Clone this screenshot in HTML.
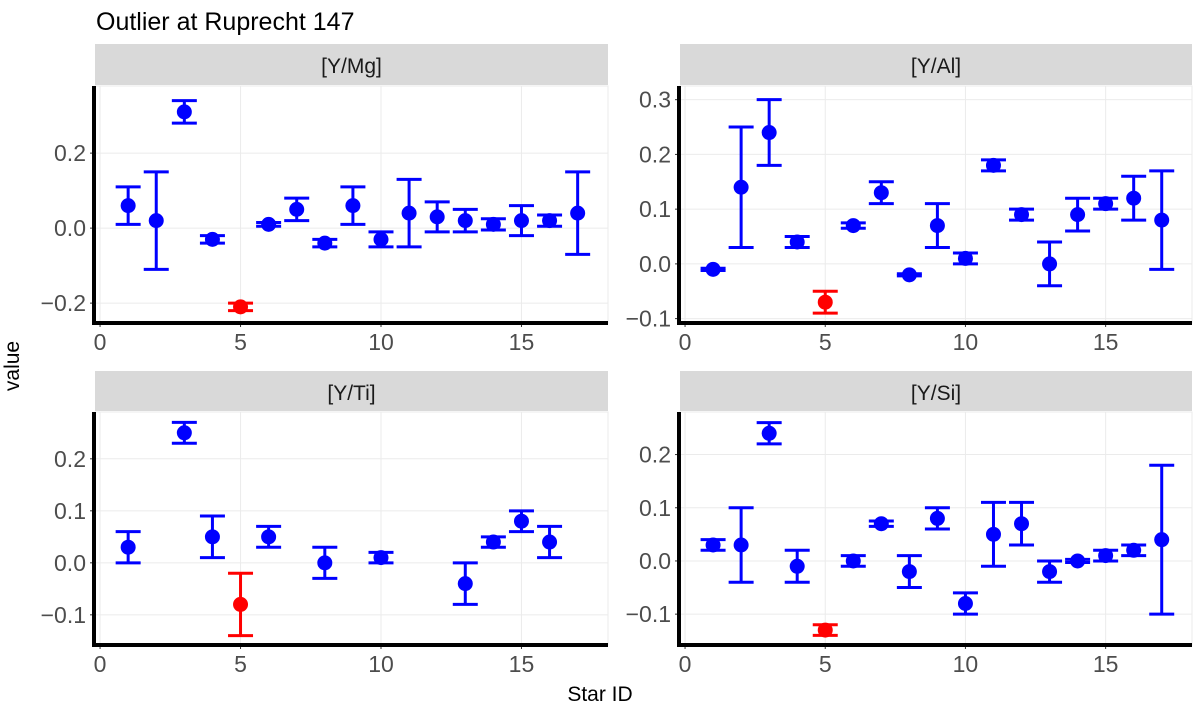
<!DOCTYPE html>
<html><head><meta charset="utf-8"><style>
body{margin:0;background:#fff;width:1200px;height:709px;overflow:hidden;font-family:"Liberation Sans",sans-serif}
</style></head><body>
<svg id="c" width="1200" height="709" xmlns="http://www.w3.org/2000/svg" font-family="Liberation Sans, sans-serif">
<text x="96" y="30" font-size="25" fill="#000">Outlier at Ruprecht 147</text>
<text x="600" y="701" font-size="21" text-anchor="middle" fill="#000">Star ID</text>
<text x="19" y="366" font-size="21" text-anchor="middle" fill="#000" transform="rotate(-90 19 366)">value</text>
</svg>
<script>
const mgIds=[1,2,3,4,5,6,7,8,9,10,11,12,13,14,15,16,17];
const mgVal=[0.06,0.02,0.31,-0.03,-0.21,0.01,0.05,-0.04,0.06,-0.03,0.04,0.03,0.02,0.01,0.02,0.02,0.04];
const mgLo=[0.01,-0.11,0.28,-0.04,-0.22,0.005,0.02,-0.05,0.01,-0.05,-0.05,-0.01,-0.01,-0.005,-0.02,0.005,-0.07];
const mgHi=[0.11,0.15,0.34,-0.02,-0.20,0.015,0.08,-0.03,0.11,-0.01,0.13,0.07,0.05,0.025,0.06,0.035,0.15];
const alIds=[1,2,3,4,5,6,7,8,9,10,11,12,13,14,15,16,17];
const alVal=[-0.01,0.14,0.24,0.04,-0.07,0.07,0.13,-0.02,0.07,0.01,0.18,0.09,0.0,0.09,0.11,0.12,0.08];
const alLo=[-0.012,0.03,0.18,0.03,-0.09,0.065,0.11,-0.022,0.03,0.0,0.17,0.08,-0.04,0.06,0.10,0.08,-0.01];
const alHi=[-0.008,0.25,0.30,0.05,-0.05,0.075,0.15,-0.018,0.11,0.02,0.19,0.10,0.04,0.12,0.12,0.16,0.17];
const tiIds=[1,3,4,5,6,8,10,13,14,15,16];
const tiVal=[0.03,0.25,0.05,-0.08,0.05,0.0,0.01,-0.04,0.04,0.08,0.04];
const tiLo=[0.0,0.23,0.01,-0.14,0.03,-0.03,0.0,-0.08,0.03,0.06,0.01];
const tiHi=[0.06,0.27,0.09,-0.02,0.07,0.03,0.02,0.0,0.05,0.10,0.07];
const siIds=[1,2,3,4,5,6,7,8,9,10,11,12,13,14,15,16,17];
const siVal=[0.03,0.03,0.24,-0.01,-0.13,0.0,0.07,-0.02,0.08,-0.08,0.05,0.07,-0.02,0.0,0.01,0.02,0.04];
const siLo=[0.02,-0.04,0.22,-0.04,-0.14,-0.01,0.065,-0.05,0.06,-0.10,-0.01,0.03,-0.04,-0.003,0.0,0.01,-0.10];
const siHi=[0.04,0.10,0.26,0.02,-0.12,0.01,0.075,0.01,0.10,-0.06,0.11,0.11,0.0,0.003,0.02,0.03,0.18];
const outlierId=5;
const xTicks=[0,5,10,15];
const mgTicks=[-0.2,0.0,0.2], alTicks=[-0.1,0.0,0.1,0.2,0.3], tiTicks=[-0.1,0.0,0.1,0.2], siTicks=[-0.1,0.0,0.1,0.2];
const svg=document.getElementById('c');const NS='http://www.w3.org/2000/svg';
function mk(t,a,p){const e=document.createElementNS(NS,t);for(const k in a)e.setAttribute(k,a[k]);(p||svg).appendChild(e);return e;}
const panels=[
 {name:'y-mg',label:'[Y/Mg]',L:95,R:608,T:86,B:323,hT:44,ymin:-0.253,ymax:0.379,ids:mgIds,v:mgVal,lo:mgLo,hi:mgHi,ticks:mgTicks},
 {name:'y-al',label:'[Y/Al]',L:680,R:1192,T:86,B:323,hT:44,ymin:-0.108,ymax:0.325,ids:alIds,v:alVal,lo:alLo,hi:alHi,ticks:alTicks},
 {name:'y-ti',label:'[Y/Ti]',L:95,R:608,T:412,B:645,hT:371,ymin:-0.158,ymax:0.29,ids:tiIds,v:tiVal,lo:tiLo,hi:tiHi,ticks:tiTicks},
 {name:'y-si',label:'[Y/Si]',L:680,R:1192,T:412,B:645,hT:371,ymin:-0.158,ymax:0.28,ids:siIds,v:siVal,lo:siLo,hi:siHi,ticks:siTicks}];
panels.forEach(p=>{
 const g=mk('g',{});
 
 
 const xmin=-0.18,xmax=18.08;
 const X=v=>p.L+(v-xmin)/(xmax-xmin)*(p.R-p.L);
 const Y=v=>p.B-(v-p.ymin)/(p.ymax-p.ymin)*(p.B-p.T);
 const strip=mk('rect',{x:p.L,y:p.hT,width:p.R-p.L,height:p.T-p.hT-1,fill:'#d9d9d9'},g);
 
 
 const st=mk('text',{x:(p.L+p.R)/2,y:p.hT+29,'font-size':21,'text-anchor':'middle',fill:'#1a1a1a'},g);st.textContent=p.label;
 
 
 mk('rect',{x:p.L,y:p.T,width:p.R-p.L,height:p.B-p.T,fill:'#fff',stroke:'#ebebeb','stroke-width':1},g);
 xTicks.forEach(t=>{mk('line',{x1:X(t),x2:X(t),y1:p.T,y2:p.B,stroke:'#ebebeb','stroke-width':1},g);
  const tl=mk('text',{x:X(t),y:p.B+27,'font-size':23,'text-anchor':'middle',fill:'#4d4d4d'},g);tl.textContent=t;
  
  
  mk('line',{x1:X(t),x2:X(t),y1:p.B,y2:p.B+4,stroke:'#333','stroke-width':1},g);});
 p.ticks.forEach(t=>{mk('line',{x1:p.L,x2:p.R,y1:Y(t),y2:Y(t),stroke:'#ebebeb','stroke-width':1},g);
  const tl=mk('text',{x:p.L-9,y:Y(t)+8,'font-size':23,'text-anchor':'end',fill:'#4d4d4d'},g);tl.textContent=(t<0?'\u2212':'')+Math.abs(t).toFixed(1);
  
  
  mk('line',{x1:p.L-5,x2:p.L,y1:Y(t),y2:Y(t),stroke:'#333','stroke-width':1},g);});
 mk('line',{x1:p.L-1,x2:p.L-1,y1:p.T,y2:p.B+2,stroke:'#000','stroke-width':4},g);
 mk('line',{x1:p.L-3,x2:p.R,y1:p.B,y2:p.B,stroke:'#000','stroke-width':4},g);
 p.ids.forEach((id,i)=>{
  const col=id===outlierId?'#ff0000':'#0000ff';
  const eg=mk('g',{},g);
  
  
  const x=X(id),cw=12.5;
  mk('line',{x1:x,x2:x,y1:Y(p.lo[i]),y2:Y(p.hi[i]),stroke:col,'stroke-width':3},eg);
  mk('line',{x1:x-cw,x2:x+cw,y1:Y(p.lo[i]),y2:Y(p.lo[i]),stroke:col,'stroke-width':3},eg);
  mk('line',{x1:x-cw,x2:x+cw,y1:Y(p.hi[i]),y2:Y(p.hi[i]),stroke:col,'stroke-width':3},eg);
  mk('circle',{cx:x,cy:Y(p.v[i]),r:7.5,fill:col},eg);
 });
});
</script>
</body></html>
